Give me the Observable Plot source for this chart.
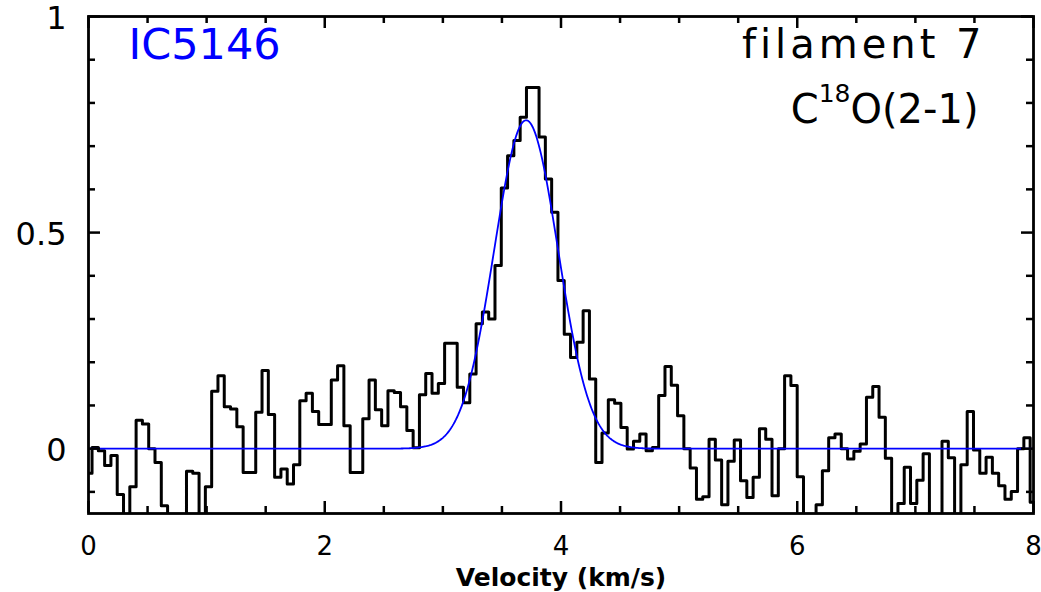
<!DOCTYPE html>
<html><head><meta charset="utf-8">
<script src="https://cdn.jsdelivr.net/npm/d3@7"></script>
<script src="https://cdn.jsdelivr.net/npm/@observablehq/plot@0.6"></script>
<style>
html,body{margin:0;padding:0;background:#fff;}
#chart svg{display:block;}
</style>
</head><body><div id="chart"></div>
<script>
// Spectrum channels: centre of first channel and channel width (km/s)
const channelStart = 0.0033;
const channelWidth = 0.0533;
// Antenna temperature per channel (values below -0.15 are off the plot)
const intensity = [
 -0.057, 0.003, -0.005, -0.039, -0.016, -0.106, -0.2, -0.088, 0.066, 0.057,
  0.0, -0.032, -0.132, -0.2, -0.2, -0.2, -0.052, -0.057, -0.2, -0.088,
  0.133, 0.169, 0.097, 0.092, 0.051, -0.055, -0.055, 0.084, 0.181, 0.079,
 -0.066, -0.047, -0.082, -0.037, 0.111, 0.128, 0.086, 0.056, 0.056, 0.159,
  0.192, 0.053, -0.055, -0.055, 0.069, 0.159, 0.090, 0.053, 0.134, 0.130,
  0.097, 0.042, 0.002, 0.125, 0.174, 0.128, 0.151, 0.244, 0.244, 0.142,
  0.106, 0.173, 0.289, 0.316, 0.300, 0.424, 0.603, 0.678, 0.713, 0.767,
  0.836, 0.836, 0.721, 0.624, 0.547, 0.389, 0.265, 0.211, 0.246, 0.319,
  0.161, -0.032, 0.036, 0.113, 0.105, 0.049, -0.001, 0.017, 0.034, -0.005,
  0.003, 0.123, 0.190, 0.147, 0.076, 0.0, -0.045, -0.117, -0.111, 0.022,
 -0.026, -0.130, -0.029, 0.020, -0.074, -0.113, -0.066, 0.046, 0.022, -0.109,
  0.0, 0.169, 0.146, -0.065, -0.2, -0.2, -0.130, -0.051, 0.025, 0.034,
  0.0, -0.024, -0.006, 0.011, 0.119, 0.144, 0.073, -0.022, -0.2, -0.127,
 -0.043, -0.127, -0.073, -0.012, -0.2, -0.2, 0.017, -0.021, -0.2, -0.037,
  0.086, -0.003, -0.057, -0.020, -0.057, -0.086, -0.117, -0.099, 0.0, 0.025,
 -0.124
];
// Gaussian fit parameters: amplitude, centre (km/s), sigma (km/s)
const fitParams = [0.76, 3.705, 0.27];
// Axis ticks and labels
const xMajorTicks = [0, 2, 4, 6, 8];
const xMinorTicks = [0.5, 1, 1.5, 2.5, 3, 3.5, 4.5, 5, 5.5, 6.5, 7, 7.5];
const yMajorTicks = [0, 0.5, 1];
const yMinorTicks = [-0.1, 0.1, 0.2, 0.3, 0.4, 0.6, 0.7, 0.8, 0.9];
const xLabel = "Velocity (km/s)";
const sourceName = "IC5146";
const filamentName = "filament 7";
const lineName = ["C", "18", "O(2-1)"];

const W = 1041, H = 592;
const mL = 88, mR = 8, mT = 16, mB = 79;
const innerW = W - mL - mR, innerH = H - mT - mB;

const spectrum = intensity.map((t, i) => ({v: channelStart + i * channelWidth, t}));
const [amp, cen, sig] = fitParams;
const fit = d3.range(0, 8.0001, 0.01).map(v => ({v, t: amp * Math.exp(-0.5 * ((v - cen) / sig) ** 2)}));

const font = "'DejaVu Sans', sans-serif";
const tickW = 2.5;

const chart = Plot.plot({
  width: W, height: H,
  marginLeft: mL, marginRight: mR, marginTop: mT, marginBottom: mB,
  x: {domain: [0, 8], label: null},
  y: {domain: [-0.15, 1], label: null},
  style: {fontFamily: font, background: "white", color: "black"},
  marks: [
    Plot.line(spectrum, {x: "v", y: "t", curve: "step", stroke: "black", strokeWidth: 3, clip: true}),
    Plot.line(fit, {x: "v", y: "t", stroke: "#0000ff", strokeWidth: 1.8, clip: true}),
    // ticks (inward) on all four sides
    Plot.tickX(xMajorTicks, {x: d => d, insetTop: innerH - 12, stroke: "black", strokeWidth: tickW}),
    Plot.tickX(xMinorTicks, {x: d => d, insetTop: innerH - 7, stroke: "black", strokeWidth: tickW}),
    Plot.tickX(xMajorTicks, {x: d => d, insetBottom: innerH - 12, stroke: "black", strokeWidth: tickW}),
    Plot.tickX(xMinorTicks, {x: d => d, insetBottom: innerH - 7, stroke: "black", strokeWidth: tickW}),
    Plot.tickY(yMajorTicks, {y: d => d, insetRight: innerW - 12, stroke: "black", strokeWidth: tickW}),
    Plot.tickY(yMinorTicks, {y: d => d, insetRight: innerW - 7, stroke: "black", strokeWidth: tickW}),
    Plot.tickY(yMajorTicks, {y: d => d, insetLeft: innerW - 12, stroke: "black", strokeWidth: tickW}),
    Plot.tickY(yMinorTicks, {y: d => d, insetLeft: innerW - 7, stroke: "black", strokeWidth: tickW}),
    Plot.frame({stroke: "black", strokeWidth: 2.8}),
    Plot.axisX(xMajorTicks, {tickSize: 0, tickPadding: 23, fontSize: 26, tickFormat: d => String(d), label: null, fill: "black"}),
    Plot.axisY(yMajorTicks, {tickSize: 0, tickPadding: 22, fontSize: 32, dy: 2, tickFormat: d => String(d), label: null, fill: "black"}),
    Plot.text([xLabel], {text: d => d, frameAnchor: "bottom", dy: 72, lineAnchor: "bottom", fontSize: 25, fontWeight: "bold", fill: "black"}),
    Plot.text([sourceName], {text: d => d, frameAnchor: "top-left", textAnchor: "start", dx: 40, dy: 42, lineAnchor: "bottom", fontSize: 43, fill: "#0000ff"}),
    Plot.text([filamentName], {text: d => d, frameAnchor: "top-right", textAnchor: "end", dx: -48, dy: 41, lineAnchor: "bottom", fontSize: 40, fill: "black"}),
    Plot.text([lineName.join("")], {text: d => d, frameAnchor: "top-right", textAnchor: "end", dx: -55, dy: 106, lineAnchor: "bottom", fontSize: 40, fill: "black"})
  ]
});

const ns = "http://www.w3.org/2000/svg";
const full = lineName.join("");
for (const t of chart.querySelectorAll("text")) {
  if (t.textContent === filamentName) {
    t.setAttribute("letter-spacing", "4");
  }
  // rebuild the molecule label with a superscript
  if (t.textContent === full) {
    t.textContent = "";
    const a = document.createElementNS(ns, "tspan"); a.textContent = lineName[0];
    const b = document.createElementNS(ns, "tspan"); b.textContent = lineName[1];
    b.setAttribute("font-size", "25"); b.setAttribute("dy", "-21");
    const c = document.createElementNS(ns, "tspan"); c.textContent = lineName[2];
    c.setAttribute("dy", "21");
    t.append(a, b, c);
  }
}
document.getElementById("chart").append(chart);
</script>
</body></html>
